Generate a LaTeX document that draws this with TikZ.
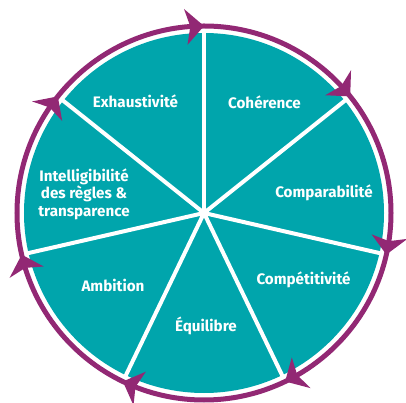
\documentclass[tikz,border=0pt]{standalone}
\usepackage{fontspec}
\setmainfont{Fira Sans}
\definecolor{ringpurple}{RGB}{146,40,116}
\definecolor{sliceteal}{RGB}{0,165,172}
% one arrowhead on the ring, tip at angle #1, pointing clockwise
\newcommand{\ringhead}[1]{\fill[ringpurple] (#1:187) -- (#1+5.6:205) -- (#1+4.2:187) -- (#1+5.6:169) -- cycle;}
\begin{document}
\begin{tikzpicture}[x=1pt,y=1pt,
  divider/.style={white,line width=4pt},
  wheellabel/.style={text=white,font=\bfseries\fontsize{15.2}{17.5}\selectfont,align=center}]
\useasboundingbox (-204,-190) rectangle (202,213);
\coordinate (O) at (0,0);
\fill[sliceteal] (O) circle (180);
\draw[ringpurple,line width=5pt] (O) circle (187);
\coordinate (r1) at (90:181);
\coordinate (r2) at (38.57:181);
\coordinate (r3) at (-12.86:181);
\coordinate (r4) at (-64.29:181);
\coordinate (r5) at (-115.71:181);
\coordinate (r6) at (-167.14:181);
\coordinate (r7) at (141.43:181);
\draw[divider] (O)--(r1);
\draw[divider] (O)--(r2);
\draw[divider] (O)--(r3);
\draw[divider] (O)--(r4);
\draw[divider] (O)--(r5);
\draw[divider] (O)--(r6);
\draw[divider] (O)--(r7);
\ringhead{90}
\ringhead{38.57}
\ringhead{-12.86}
\ringhead{-64.29}
\ringhead{-115.71}
\ringhead{-167.14}
\ringhead{141.43}
\node[wheellabel] (exh) at (-68.5,111.5) {Exhaustivité};
\node[wheellabel] (coh) at (60.5,111) {Cohérence};
\node[wheellabel] (cmp) at (120,20) {Comparabilité};
\node[wheellabel] (cpt) at (99.5,-67) {Compétitivité};
\node[wheellabel] (equ) at (2,-113) {Équilibre};
\node[wheellabel] (amb) at (-91,-72) {Ambition};
\node[wheellabel] (int) at (-120,19) {Intelligibilité\\des règles \&\\transparence};
\end{tikzpicture}
\end{document}
